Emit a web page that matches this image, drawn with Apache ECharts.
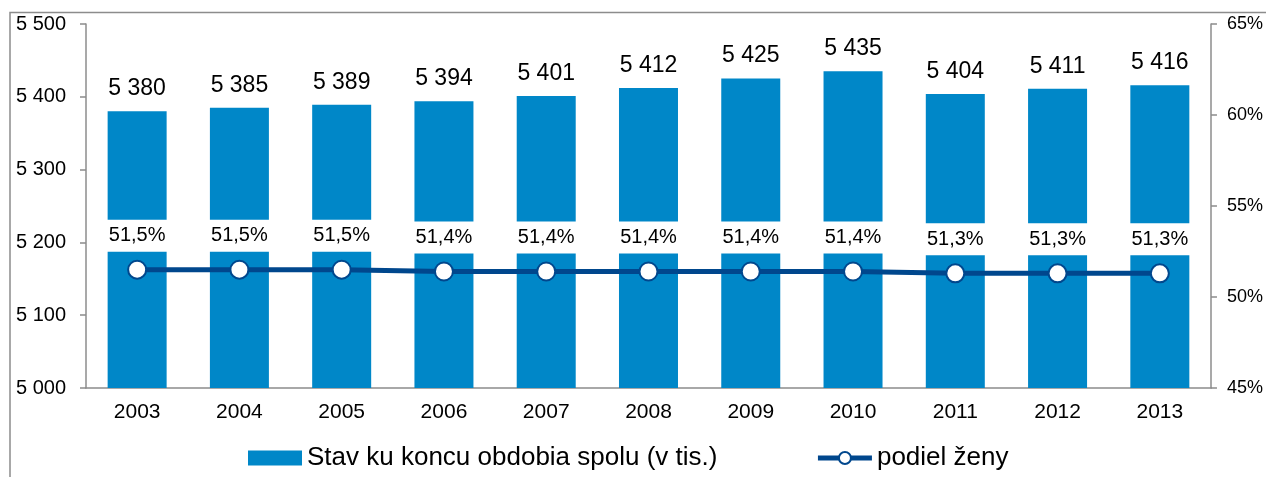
<!DOCTYPE html>
<html>
<head>
<meta charset="utf-8">
<script src="https://cdn.jsdelivr.net/npm/echarts@6/dist/echarts.min.js"></script>
<style>
  html, body { margin: 0; padding: 0; background: #fff; }
  #chart { width: 1266px; height: 477px; }
</style>
</head>
<body>
<div id="chart"></div>
<script>
// data
const years = ["2003", "2004", "2005", "2006", "2007", "2008", "2009", "2010", "2011", "2012", "2013"];
const totals = [5380, 5385, 5389, 5394, 5401, 5412, 5425, 5435, 5404, 5411, 5416];
const womenShare = [51.5, 51.5, 51.5, 51.4, 51.4, 51.4, 51.4, 51.4, 51.3, 51.3, 51.3];

const barName = "Stav ku koncu obdobia spolu (v tis.)";
const lineName = "podiel ženy";

const font = "Liberation Sans, Arial, sans-serif";
const axisGray = "#8c8c8c";
const lineBlue = "#00478d";

// "5 380" style thousands
const spaced = (v) => String(v).replace(/\B(?=(\d{3})+(?!\d))/g, " ");

const chart = echarts.init(document.getElementById("chart"));

const option = {
    animation: false,
    textStyle: { fontFamily: font, color: "#000" },
    graphic: [
        {
            // outer frame of the original picture
            type: "rect",
            shape: { x: 10, y: 12.5, width: 1400, height: 600 },
            style: { fill: "none", stroke: axisGray, lineWidth: 1.5 },
            silent: true,
        },
    ],
    grid: {
        left: 86,
        right: 55,
        top: 24,
        bottom: 89,
    },
    legend: {
        left: 243,
        top: 440,
        itemGap: 98,
        itemWidth: 54,
        itemHeight: 15,
        textStyle: { fontSize: 26, color: "#000", fontFamily: font },
        data: [
            { name: barName, icon: "rect" },
            { name: lineName, lineStyle: { width: 5, color: lineBlue } },
        ],
    },
    xAxis: {
        type: "category",
        data: years,
        axisLine: { lineStyle: { color: axisGray, width: 1.5 } },
        axisTick: { length: 6, lineStyle: { color: axisGray, width: 1.5 } },
        axisLabel: { fontSize: 21, color: "#000", margin: 14 },
    },
    yAxis: [
        {
            type: "value",
            min: 5000,
            max: 5500,
            interval: 100,
            axisLine: { show: true, lineStyle: { color: axisGray, width: 1.5 } },
            axisTick: { show: true, length: 6, lineStyle: { color: axisGray, width: 1.5 } },
            axisLabel: { fontSize: 20, color: "#000", margin: 20, formatter: (v) => spaced(v) },
            splitLine: { show: false },
        },
        {
            type: "value",
            min: 45,
            max: 65,
            interval: 5,
            position: "right",
            axisLine: { show: true, lineStyle: { color: axisGray, width: 1.5 } },
            axisTick: { show: true, length: 6, lineStyle: { color: axisGray, width: 1.5 } },
            axisLabel: { fontSize: 18, color: "#000", margin: 16, formatter: "{value}%" },
            splitLine: { show: false },
        },
    ],
    series: [
        {
            name: barName,
            type: "bar",
            data: totals,
            barWidth: 59,
            itemStyle: { color: "#0087c8" },
            label: {
                show: true,
                position: "top",
                distance: 11,
                fontSize: 23,
                color: "#000",
                formatter: (p) => spaced(p.value),
            },
        },
        {
            name: lineName,
            type: "line",
            yAxisIndex: 1,
            z: 3,
            data: womenShare,
            symbol: "circle",
            symbolSize: 18,
            lineStyle: { color: lineBlue, width: 5 },
            itemStyle: { color: "#fff", borderColor: lineBlue, borderWidth: 2 },
            label: {
                show: true,
                position: "top",
                distance: 8,
                fontSize: 20,
                color: "#000",
                backgroundColor: "#fff",
                padding: [6, 12],
                formatter: (p) => p.value.toFixed(1).replace(".", ",") + "%",
            },
        },
    ],
};

chart.setOption(option);
</script>
</body>
</html>
